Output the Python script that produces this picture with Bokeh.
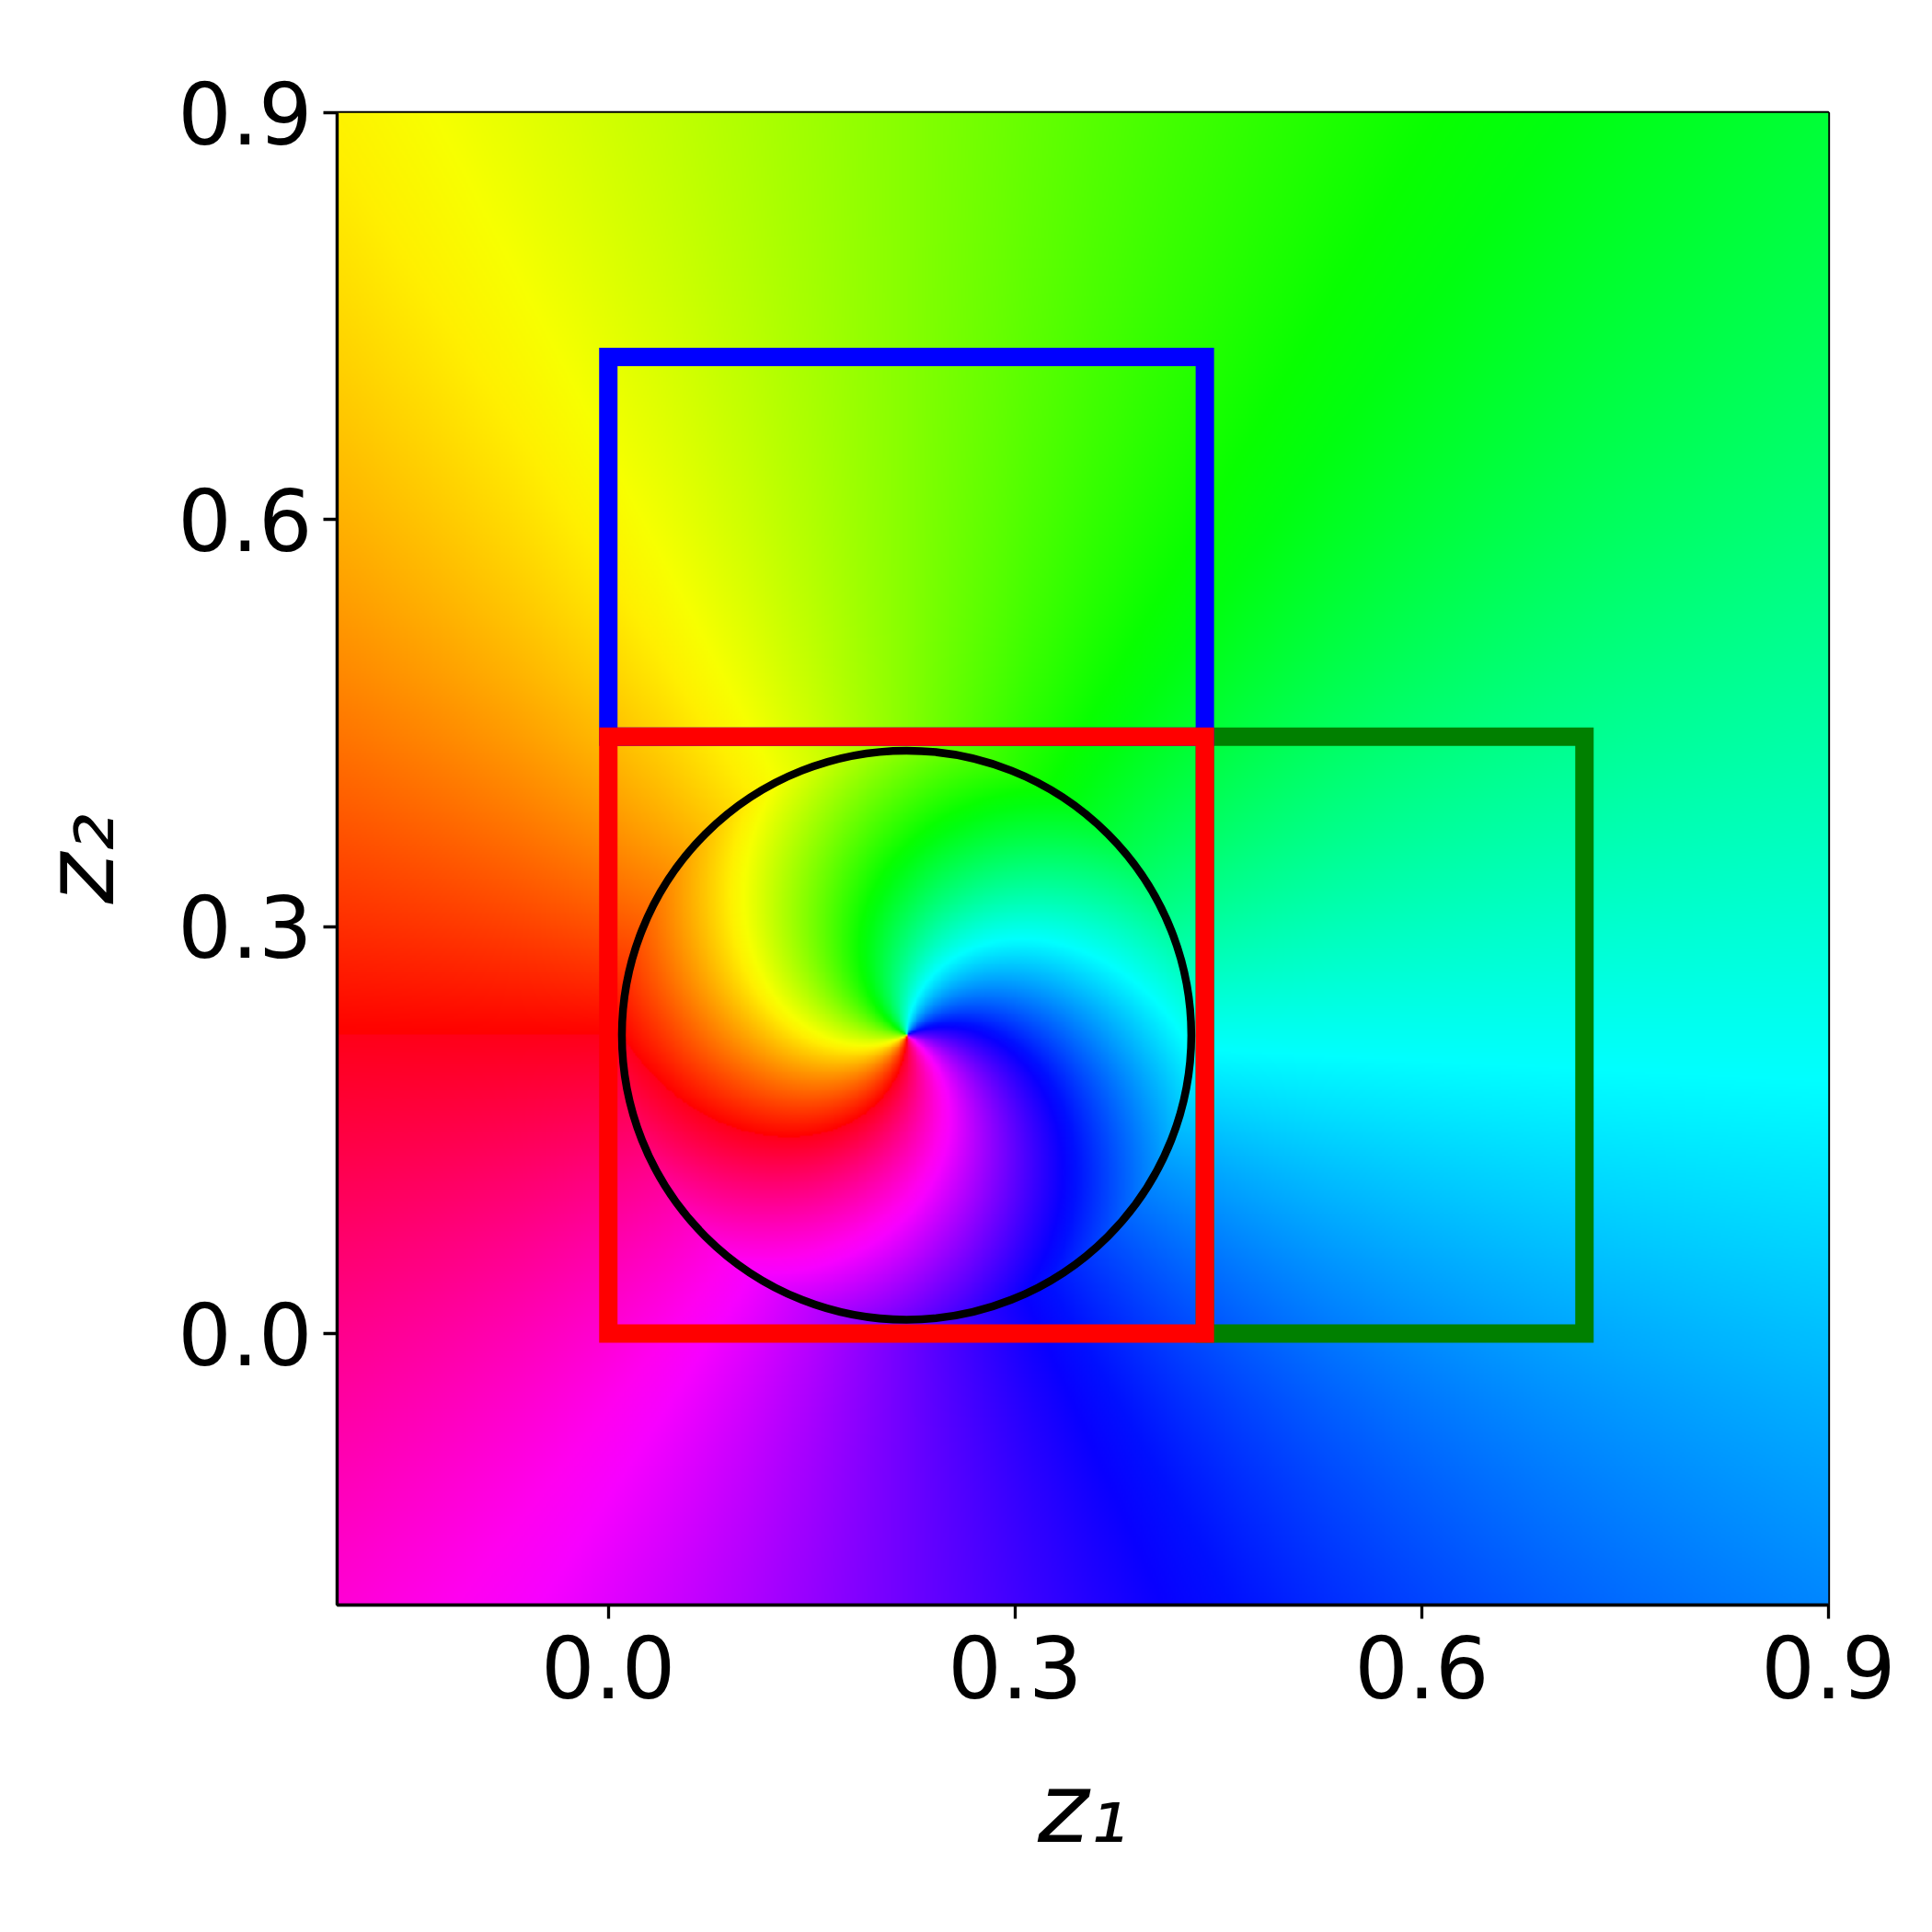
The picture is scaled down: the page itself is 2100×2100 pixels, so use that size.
import numpy as np
from bokeh.plotting import figure
from bokeh.models import FixedTicker, CustomJSTickFormatter, Range1d
from bokeh.embed import file_html
from bokeh.resources import INLINE

# ---------------- data ----------------
x_limits = [-0.2, 0.9]
y_limits = [-0.2, 0.9]
tick_values = [0.0, 0.3, 0.6, 0.9]
tick_labels = ["0.0", "0.3", "0.6", "0.9"]

swirl_center = [0.22, 0.22]
swirl_radius = 0.21
swirl_twist = np.pi / 2          # extra rotation (rad) at the swirl centre

box_left = [0.44, 0.0, 0.0]
box_right = [0.72, 0.44, 0.44]
box_bottom = [0.0, 0.44, 0.0]
box_top = [0.44, 0.72, 0.44]
box_colors = ["green", "blue", "red"]

# matplotlib "hsv" colormap segment data
hsv_red_x = [0.0, 0.158730, 0.174603, 0.333333, 0.349206, 0.666667, 0.682540, 0.841270, 0.857143, 1.0]
hsv_red_y = [1.0, 1.0, 0.96875, 0.03125, 0.0, 0.0, 0.03125, 0.96875, 1.0, 1.0]
hsv_green_x = [0.0, 0.158730, 0.174603, 0.507937, 0.666667, 0.682540, 1.0]
hsv_green_y = [0.0, 0.9375, 1.0, 1.0, 0.0625, 0.0, 0.0]
hsv_blue_x = [0.0, 0.333333, 0.349206, 0.507937, 0.841270, 0.857143, 1.0]
hsv_blue_y = [0.0, 0.0, 0.0625, 1.0, 1.0, 0.9375, 0.09375]

# ---------------- hue field ----------------
N = 900
x0, x1 = x_limits
y0, y1 = y_limits
xs = x0 + (np.arange(N) + 0.5) * (x1 - x0) / N
ys = y0 + (np.arange(N) + 0.5) * (y1 - y0) / N
X, Y = np.meshgrid(xs, ys)
dx = X - swirl_center[0]
dy = Y - swirl_center[1]
theta = np.arctan2(dy, dx)
rho = np.hypot(dx, dy) / swirl_radius
tw = np.where(rho < 1.0, swirl_twist * (1.0 - rho), 0.0)
t = np.mod((np.pi - theta + tw) / (2 * np.pi), 1.0)

R = np.interp(t, hsv_red_x, hsv_red_y)
G = np.interp(t, hsv_green_x, hsv_green_y)
B = np.interp(t, hsv_blue_x, hsv_blue_y)

img = np.empty((N, N), dtype=np.uint32)
view = img.view(dtype=np.uint8).reshape((N, N, 4))
view[:, :, 0] = np.round(R * 255).astype(np.uint8)
view[:, :, 1] = np.round(G * 255).astype(np.uint8)
view[:, :, 2] = np.round(B * 255).astype(np.uint8)
view[:, :, 3] = 255

# ---------------- figure ----------------
p = figure(
    frame_width=1621, frame_height=1622,
    min_border_left=366, min_border_top=122, min_border_right=92, min_border_bottom=300,
    x_range=Range1d(x0, x1), y_range=Range1d(y0, y1),
    output_backend="svg", toolbar_location=None, tools="",
    background_fill_color="white", border_fill_color="white",
)
p.outline_line_color = "black"
p.outline_line_width = 3.3
p.grid.visible = False

p.image_rgba(image=[img], x=x0, y=y0, dw=x1 - x0, dh=y1 - y0)

p.quad(left=box_left, right=box_right, bottom=box_bottom, top=box_top,
       fill_color=None, line_color=box_colors, line_width=20, line_join="miter")

p.circle(x=[swirl_center[0]], y=[swirl_center[1]], radius=swirl_radius,
         fill_color=None, line_color="black", line_width=8.5)

fmt = CustomJSTickFormatter(args=dict(tvals=tick_values, tlabels=tick_labels), code="""
const i = tvals.findIndex(v => Math.abs(v - tick) < 1e-9);
return i >= 0 ? tlabels[i] : tick.toFixed(1);
""")

for ax in (p.xaxis[0], p.yaxis[0]):
    ax.ticker = FixedTicker(ticks=tick_values)
    ax.formatter = fmt
    ax.axis_line_color = "black"
    ax.axis_line_width = 3.3
    ax.major_tick_line_color = "black"
    ax.major_tick_line_width = 3.3
    ax.major_tick_out = 15
    ax.major_tick_in = 0
    ax.minor_tick_line_color = None
    ax.major_label_text_font = "DejaVu Sans"
    ax.major_label_text_font_size = "92px"
    ax.major_label_text_color = "black"
    ax.axis_label_text_font = "DejaVu Sans"
    ax.axis_label_text_font_size = "106px"
    ax.axis_label_text_font_style = "italic"
    ax.axis_label_text_color = "black"

p.xaxis.axis_label = "z\u2081"
p.yaxis.axis_label = "z\u2082"
p.xaxis.major_label_standoff = 18
p.yaxis.major_label_standoff = 12
p.xaxis.axis_label_standoff = 55
p.yaxis.axis_label_standoff = 42

open("out.html", "w").write(file_html(p, INLINE))
